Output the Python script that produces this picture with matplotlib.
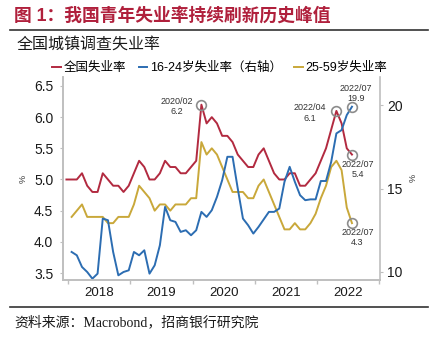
import numpy as np
import matplotlib
matplotlib.use('Agg')
import matplotlib.pyplot as plt
from matplotlib.lines import Line2D

plt.rcParams['font.family'] = ['Liberation Sans', 'Noto Sans CJK SC']
plt.rcParams['axes.unicode_minus'] = False

# ______ data (monthly, %) ______
# 全国失业率: 2017/12 - 2022/07
red = [5.0,
       5.0, 5.0, 5.1, 4.9, 4.8, 4.8, 5.1, 5.0, 4.9, 4.9, 4.8, 4.9,
       5.1, 5.3, 5.2, 5.0, 5.0, 5.1, 5.3, 5.2, 5.2, 5.1, 5.1, 5.2,
       5.3, 6.2, 5.9, 6.0, 5.9, 5.7, 5.7, 5.6, 5.4, 5.3, 5.2, 5.2,
       5.4, 5.5, 5.3, 5.1, 5.0, 5.0, 5.1, 5.1, 4.9, 4.9, 5.0, 5.1,
       5.3, 5.5, 5.8, 6.1, 5.9, 5.5, 5.4]
# 16-24岁失业率 (右轴): 2018/01 - 2022/07
blue = [11.2, 11.0, 10.3, 10.0, 9.6, 9.9, 13.2, 13.1, 11.2, 9.8, 10.0, 10.1,
        11.2, 11.0, 11.3, 9.9, 10.4, 11.6, 13.9, 13.1, 13.0, 12.4, 12.5, 12.2,
        12.5, 13.6, 13.3, 13.7, 14.5, 15.5, 16.9, 16.9, 15.0, 13.2, 12.8, 12.3,
        12.7, 13.15, 13.6, 13.6, 13.8, 15.4, 16.3, 15.4, 14.6, 14.3, 14.35, 14.35,
        15.45, 15.45, 16.6, 18.3, 18.5, 19.4, 19.9]
# 25-59岁失业率: 2018/01 - 2022/07
yellow = [4.4, 4.5, 4.6, 4.4, 4.4, 4.4, 4.4, 4.3, 4.3, 4.4, 4.4, 4.4,
          4.6, 4.9, 4.8, 4.7, 4.5, 4.6, 4.6, 4.5, 4.6, 4.6, 4.6, 4.7,
          4.7, 5.6, 5.4, 5.5, 5.4, 5.2, 5.0, 4.8, 4.8, 4.8, 4.7, 4.7,
          4.9, 5.0, 4.8, 4.6, 4.4, 4.2, 4.2, 4.3, 4.2, 4.2, 4.3, 4.45,
          4.7, 4.9, 5.2, 5.3, 5.15, 4.55, 4.3]
years = ['2018', '2019', '2020', '2021', '2022']

c_red = '#B22A40'
c_blue = '#2C6DB2'
c_yel = '#C9A83A'
c_spine = '#BFBFBF'

# month positions: year starts at 0, 12, ...; points sit near month end
x_red = np.arange(len(red)) - 1 + 0.7
x_blue = np.arange(len(blue)) + 0.7
x_yel = np.arange(len(yellow)) + 0.7

fig = plt.figure(figsize=(4.37, 3.39), dpi=100)
ax = fig.add_axes([63/437, 1-280/339, 317/437, 203/339])
ax2 = ax.twinx()

l1, = ax.plot(x_red, red, color=c_red, lw=1.4, label='全国失业率')
l3, = ax.plot(x_yel, yellow, color=c_yel, lw=1.4, label='25-59岁失业率')
l2, = ax2.plot(x_blue, blue, color=c_blue, lw=1.4, label='16-24岁失业率（右轴）')

ax.set_xlim(-0.96, 60.1)
ax.set_ylim(3.388, 6.644)
ax2.set_ylim(9.52, 21.68)
ax.set_yticks(np.arange(3.5, 6.51, 0.5))
ax.set_yticklabels([f'{v:.1f}' for v in np.arange(3.5, 6.51, 0.5)])
ax2.set_yticks([10, 15, 20])

ax.set_xticks([0, 12, 24, 36, 48, 60])
ax.set_xticklabels([])
ax.set_xticks([6, 18, 30, 42, 54], minor=True)
ax.set_xticklabels(years, minor=True)
ax.tick_params(axis='x', which='major', length=3, color=c_spine, width=1)
ax.tick_params(axis='x', which='minor', length=0, pad=5, labelsize=9.5, labelcolor='#1a1a1a')
ax.tick_params(axis='y', length=2, color=c_spine, pad=5, labelsize=10, labelcolor='#1a1a1a')
ax2.tick_params(axis='y', length=2, color=c_spine, pad=3, labelsize=10, labelcolor='#1a1a1a')

for a in (ax, ax2):
    a.spines['top'].set_visible(False)
    for s in ('left', 'right', 'bottom'):
        a.spines[s].set_color(c_spine)
        a.spines[s].set_linewidth(1.2)
ax.spines['right'].set_visible(False)

# highlighted points
ring = dict(marker='o', ms=7, mfc='none', mec='#8C8C8C', mew=1.2, ls='none', zorder=5)
ax.plot(x_red[26], red[26], **ring)
ax.plot(x_red[52], red[52], **ring)
ax.plot(x_red[-1], red[-1], **ring)
ax.plot(x_yel[-1], yellow[-1], **ring)
ax2.plot(x_blue[-1], blue[-1], **ring)

note = dict(textcoords='offset points', ha='center', va='center',
            fontsize=6.5, color='#333333', linespacing=1.15)
ax.annotate('2020/02\n6.2', xy=(x_red[26], red[26]), xytext=(-18, -1), **note)
ax.annotate('2022/04\n6.1', xy=(x_red[52], red[52]), xytext=(-19, -1.5), **note)
ax.annotate('2022/07\n5.4', xy=(x_red[-1], red[-1]), xytext=(4, -11), **note)
ax.annotate('2022/07\n4.3', xy=(x_yel[-1], yellow[-1]), xytext=(4, -10), **note)
ax2.annotate('2022/07\n19.9', xy=(x_blue[-1], blue[-1]), xytext=(3, 9.5), **note)

fig.legend(handles=[l1, l2, l3], loc='center', bbox_to_anchor=(0.503, 1-68/339),
           ncol=3, frameon=False, fontsize=9, handlelength=0.7,
           handletextpad=0.2, columnspacing=1.0, borderaxespad=0)

fig.text(23/437, 1-179/339, '%', rotation=90, fontsize=6.5, ha='center', va='center', color='#333333')
fig.text(413/437, 1-178/339, '%', rotation=90, fontsize=6.5, ha='center', va='center', color='#333333')

# header / footer
fig.text(14/437, 1-16/339, '图 1：我国青年失业率持续刷新历史峰值', fontsize=12.8,
         fontweight='bold', color='#B0203C', ha='left', va='center')
fig.add_artist(Line2D([10/437, 428/437], [1-30/339, 1-30/339], color='#333333', lw=1.2))
fig.text(17/437, 1-44/339, '全国城镇调查失业率', fontsize=11.5, color='#1a1a1a',
         ha='left', va='center')
fig.add_artist(Line2D([10/437, 428/437], [1-307/339, 1-307/339], color='#333333', lw=1.2))
fig.text(14/437, 1-322/339, '资料来源：Macrobond，招商银行研究院', fontsize=10,
         family=['Liberation Serif', 'Noto Sans CJK SC'], color='#1a1a1a',
         ha='left', va='center')

fig.savefig('out.png', dpi=100)
